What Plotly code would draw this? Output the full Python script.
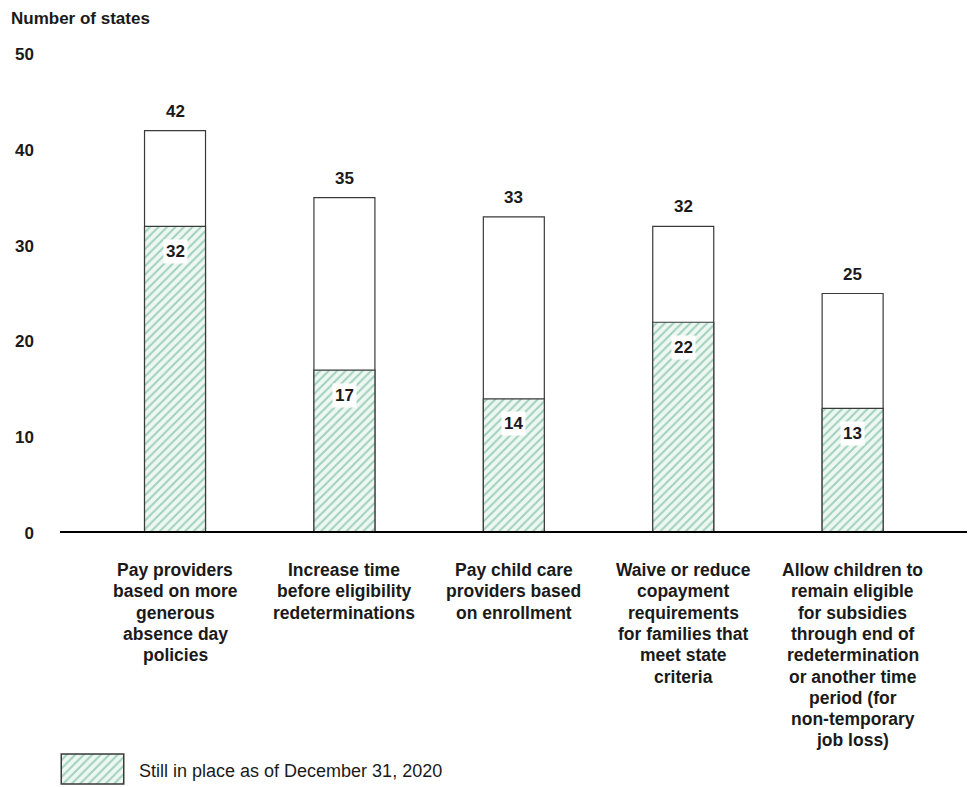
import plotly.graph_objects as go

# ---- data ----
categories = [
    "Pay providers<br>based on more<br>generous<br>absence day<br>policies",
    "Increase time<br>before eligibility<br>redeterminations",
    "Pay child care<br>providers based<br>on enrollment",
    "Waive or reduce<br>copayment<br>requirements<br>for families that<br>meet state<br>criteria",
    "Allow children to<br>remain eligible<br>for subsidies<br>through end of<br>redetermination<br>or another time<br>period (for<br>non-temporary<br>job loss)",
]
total_states = [42, 35, 33, 32, 25]
still_in_place = [32, 17, 14, 22, 13]
y_ticks = [0, 10, 20, 30, 40, 50]
legend_label = "Still in place as of December 31, 2020"
y_title = "Number of states"

# the page body adds an 8px margin, so the figure is laid out in page pixels minus 8
OFF = 8
W, H = 975 - OFF, 787 - OFF
FONT = "Liberation Sans, Arial, sans-serif"
TXT = "#1a1a1a"
OUTLINE = "#3a3a3a"

def px(x):
    return (x - OFF) / W

def py(y):
    return 1 - (y - OFF) / H

xs = list(range(len(categories)))

fig = go.Figure()

# total bars (white)
fig.add_trace(go.Bar(
    x=xs, y=total_states, width=0.36,
    marker=dict(color="white", line=dict(color=OUTLINE, width=1.2)),
    showlegend=False, hoverinfo="skip",
))
# hatched bars
hatch = dict(shape="/", fgcolor="#55a987", bgcolor="#eef8f3", size=6, solidity=0.35)
fig.add_trace(go.Bar(
    x=xs, y=still_in_place, width=0.36,
    marker=dict(color="#eef8f3", pattern=hatch, line=dict(color=OUTLINE, width=1.2)),
    showlegend=False, hoverinfo="skip",
))
# legend swatch on its own small axes
fig.add_trace(go.Bar(
    x=[0], y=[1], width=1, xaxis="x2", yaxis="y2",
    marker=dict(color="#eef8f3", pattern=hatch, line=dict(color=OUTLINE, width=1.5)),
    showlegend=False, hoverinfo="skip",
))

annotations = []
# total labels above bars
for i, v in enumerate(total_states):
    annotations.append(dict(x=i, y=v, xref="x", yref="y", text=f"<b>{v}</b>",
                            showarrow=False, yanchor="bottom", yshift=8,
                            font=dict(family=FONT, size=17, color=TXT)))
# labels inside hatched section
for i, v in enumerate(still_in_place):
    annotations.append(dict(x=i, y=v, xref="x", yref="y", text=f"<b>{v}</b>",
                            showarrow=False, yanchor="middle", yshift=-25,
                            bgcolor="white", borderpad=2,
                            font=dict(family=FONT, size=17, color=TXT)))
# category labels (one annotation per line for tight line spacing)
for i, cat in enumerate(categories):
    for k, line in enumerate(cat.split("<br>")):
        annotations.append(dict(x=i, y=py(570 + k * 21.3), xref="x", yref="paper",
                                text=f"<b>{line}</b>", showarrow=False,
                                xanchor="center", yanchor="middle",
                                font=dict(family=FONT, size=17.5, color=TXT)))
# axis title
annotations.append(dict(x=px(10), y=1, xref="paper", yref="paper",
                        text=f"<b>{y_title}</b>", showarrow=False,
                        xanchor="left", yanchor="top", borderpad=0,
                        font=dict(family=FONT, size=17, color=TXT)))
# legend text
annotations.append(dict(x=px(137), y=py(771), xref="paper", yref="paper",
                        text=legend_label, showarrow=False,
                        xanchor="left", yanchor="middle",
                        font=dict(family=FONT, size=18, color=TXT)))

fig.update_layout(
    width=W, height=H,
    margin=dict(l=0, r=0, t=0, b=0, pad=0, autoexpand=False),
    paper_bgcolor="white", plot_bgcolor="white",
    barmode="overlay",
    showlegend=False,
    xaxis=dict(domain=[px(60), px(968)], range=[-0.679, 4.681],
               showticklabels=False, showgrid=False, zeroline=False,
               showline=False, ticks="", automargin=False),
    yaxis=dict(domain=[py(533), py(54)], range=[0, 50],
               tickvals=y_ticks, ticktext=[f"<b>{t}</b>" for t in y_ticks],
               tickfont=dict(family=FONT, size=17, color=TXT),
               showgrid=False, zeroline=False, showline=False, ticks="",
               ticklabelstandoff=25, automargin=False),
    xaxis2=dict(domain=[px(60), px(125)], range=[-0.52, 0.52], anchor="y2",
                visible=False, fixedrange=True, automargin=False),
    yaxis2=dict(domain=[py(785), py(753)], range=[-0.03, 1.03], anchor="x2",
                visible=False, fixedrange=True, automargin=False),
    annotations=annotations,
    shapes=[dict(type="line", xref="paper", yref="y", x0=px(60), x1=1,
                 y0=0, y1=0, line=dict(color="black", width=4))],
)

fig.write_html("out.html")
